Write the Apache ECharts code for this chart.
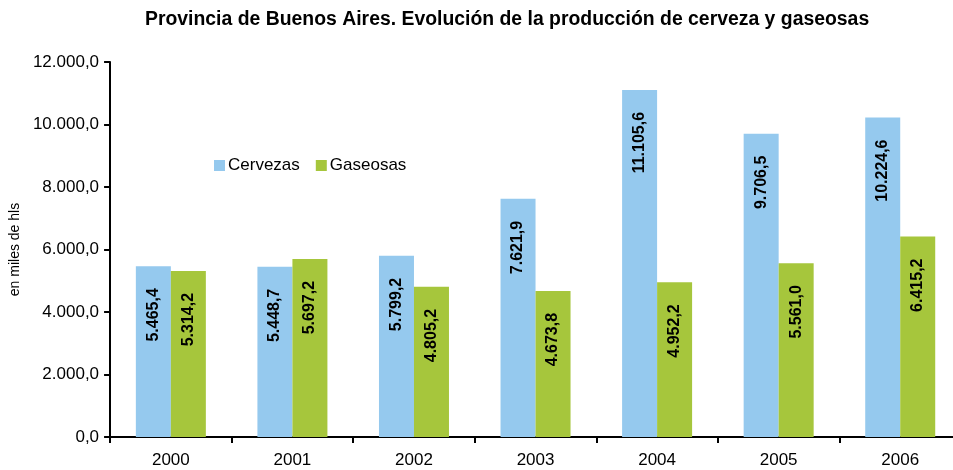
<!DOCTYPE html>
<html>
<head>
<meta charset="utf-8">
<script src="https://cdn.jsdelivr.net/npm/echarts@6/dist/echarts.min.js"></script>
<style>
  html, body { margin: 0; padding: 0; background: #fff; overflow: hidden; }
  /* the plot runs slightly past the right edge of the window */
  #chart { width: 962px; height: 470px; }
</style>
</head>
<body>
<div id="chart"></div>
<script>
// Producción anual (miles de hl)
const years = ['2000', '2001', '2002', '2003', '2004', '2005', '2006'];
const cervezas = [5465.4, 5448.7, 5799.2, 7621.9, 11105.6, 9706.5, 10224.6];
const gaseosas = [5314.2, 5697.2, 4805.2, 4673.8, 4952.2, 5561.0, 6415.2];
const yTicks = [0, 2000, 4000, 6000, 8000, 10000, 12000];

const FONT = 'Liberation Sans, Arial, sans-serif';

// 12000 -> "12.000,0"
function fmt(v, dec) {
  const parts = v.toFixed(dec).split('.');
  const intPart = parts[0].replace(/\B(?=(\d{3})+(?!\d))/g, '.');
  return dec > 0 ? intPart + ',' + parts[1] : intPart;
}

const chart = echarts.init(document.getElementById('chart'), null, { renderer: 'canvas' });

const barLabel = {
  show: true,
  position: 'insideTop',
  rotate: 90,
  align: 'right',
  verticalAlign: 'middle',
  distance: 22,
  color: '#000',
  fontFamily: FONT,
  fontWeight: 'bold',
  fontSize: 16,
  formatter: p => fmt(p.value, 1)
};

chart.setOption({
  animation: false,
  backgroundColor: '#fff',
  title: {
    text: 'Provincia de Buenos Aires. Evolución de la producción de cerveza y gaseosas',
    left: 140,
    top: 5,
    textStyle: { fontFamily: FONT, fontWeight: 'bold', fontSize: 19.4, color: '#000' }
  },
  legend: {
    left: 209,
    top: 152,
    itemWidth: 11,
    itemHeight: 11,
    itemGap: 16,
    icon: 'rect',
    textStyle: { fontFamily: FONT, fontSize: 17, color: '#000', padding: [0, 0, 0, -2] },
    data: ['Cervezas', 'Gaseosas']
  },
  grid: { left: 108, top: 62, width: 853, height: 375, containLabel: false },
  xAxis: {
    type: 'category',
    data: years,
    boundaryGap: true,
    axisLine: { lineStyle: { color: '#000', width: 2 } },
    axisTick: { show: true, length: 6, lineStyle: { color: '#000', width: 2 } },
    axisLabel: { margin: 15, color: '#000', fontFamily: FONT, fontSize: 17 }
  },
  yAxis: {
    type: 'value',
    min: yTicks[0],
    max: yTicks[yTicks.length - 1],
    interval: yTicks[1] - yTicks[0],
    name: 'en miles de hls',
    nameLocation: 'middle',
    nameRotate: 90,
    nameGap: 82,
    nameTextStyle: { fontFamily: FONT, fontSize: 14, color: '#000' },
    axisLine: { show: true, lineStyle: { color: '#000', width: 2 } },
    axisTick: { show: true, length: 6, lineStyle: { color: '#000', width: 2 } },
    splitLine: { show: false },
    axisLabel: {
      margin: 11,
      color: '#000',
      fontFamily: FONT,
      fontSize: 17,
      formatter: v => fmt(v, 1)
    }
  },
  series: [
    {
      name: 'Cervezas',
      type: 'bar',
      data: cervezas,
      barWidth: 35,
      barGap: '0%',
      itemStyle: { color: '#95c9ee' },
      label: barLabel
    },
    {
      name: 'Gaseosas',
      type: 'bar',
      data: gaseosas,
      barWidth: 35,
      barGap: '0%',
      itemStyle: { color: '#a6c63c' },
      label: barLabel
    }
  ]
});
</script>
</body>
</html>
